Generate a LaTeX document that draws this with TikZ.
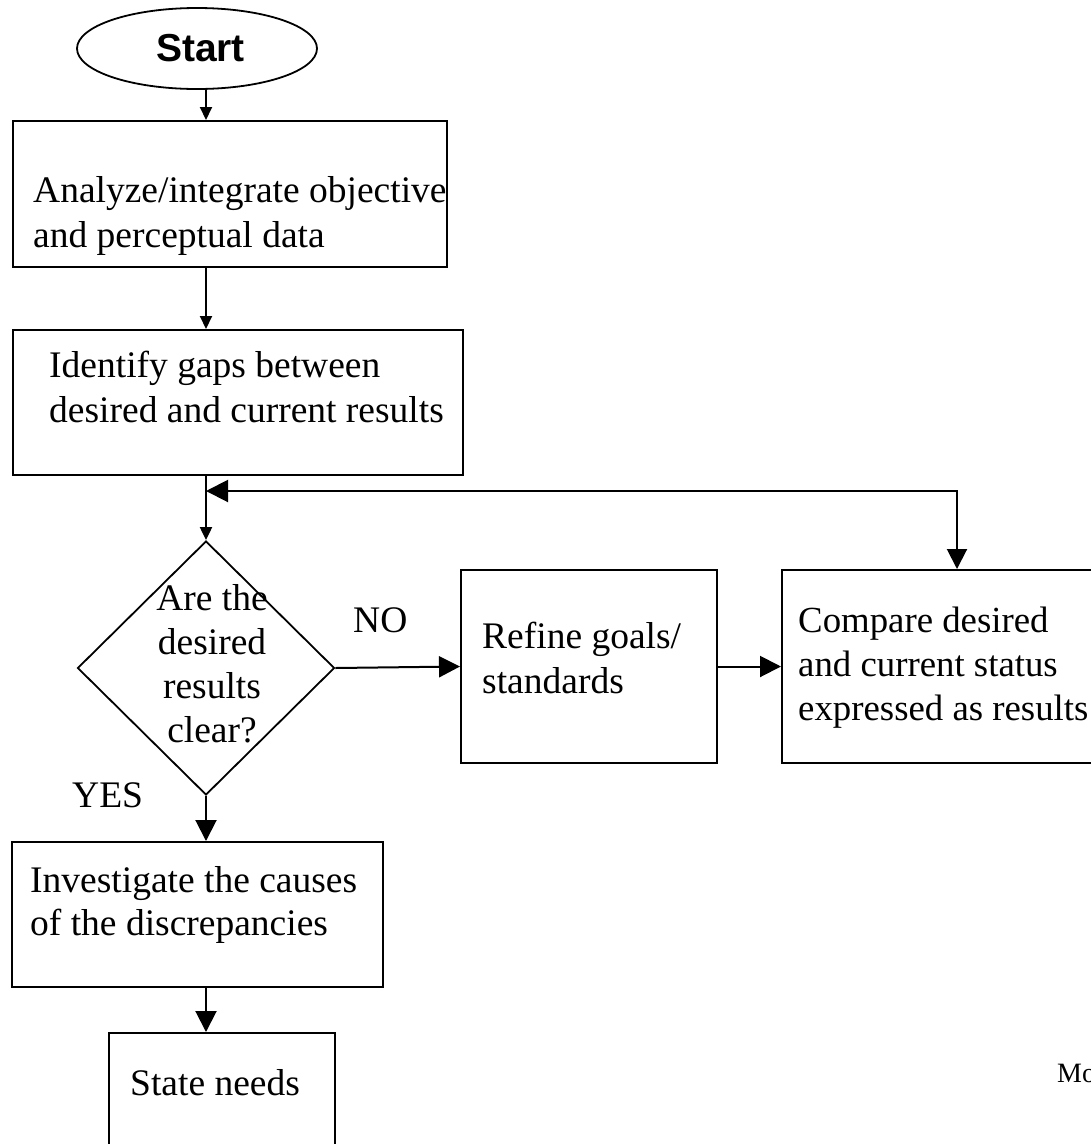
\documentclass[tikz,border=0pt]{standalone}
\usepackage{fontspec}
\setmainfont{Liberation Serif}
\newfontfamily\sansfam{Liberation Sans}
\usetikzlibrary{shapes.geometric,arrows.meta}
\begin{document}
\begin{tikzpicture}[x=1pt,y=-1pt,
  box/.style={draw, line width=2pt, rectangle, inner sep=0pt},
  txt/.style={inner sep=0pt, anchor=base west, font=\fontsize{37.5}{#1}\selectfont},
  txt/.default=45,
  ctxt/.style={inner sep=0pt, anchor=base, font=\fontsize{37.5}{#1}\selectfont},
  ctxt/.default=44.3,
  sarr/.style={line width=2pt, -{Triangle[length=13pt,width=12pt]}},
  barr/.style={line width=2pt, -{Triangle[length=21pt,width=21pt]}},
  bbarr/.style={line width=2pt, {Triangle[length=22pt,width=22pt]}-{Triangle[length=20pt,width=20pt]}},
]
\path[use as bounding box, fill=white] (0,0) rectangle (1091,1144);
\clip (0,0) rectangle (1091,1144);

% shapes
\node[draw, line width=1.8pt, ellipse, inner sep=0pt, minimum width=240pt, minimum height=81pt,
      font=\sansfam\bfseries\fontsize{39}{45}\selectfont] (start) at (197,48.5) {\hspace*{7pt}Start};
\node[box, minimum width=434pt, minimum height=146pt] (b1) at (230,194) {};
\node[box, minimum width=450pt, minimum height=145pt] (b2) at (238,402.5) {};
\node[draw, line width=1.8pt, diamond, inner sep=0pt, minimum width=257pt, minimum height=254pt] (dia) at (206,668) {};
\node[box, minimum width=256pt, minimum height=193pt] (ref) at (589,666.5) {};
\node[box, minimum width=328pt, minimum height=193pt] (cmp) at (946,666.5) {};
\node[box, minimum width=371pt, minimum height=145pt] (b3) at (197.5,914.5) {};
\node[box, minimum width=226pt, minimum height=127pt] (b4) at (222,1096.5) {};

% texts
\node[txt] (t1) at (33,202) {\begin{tabular}[t]{@{}l@{}}Analyze/integrate objective\\and perceptual data\end{tabular}};
\node[txt] (t2) at (49,377) {\begin{tabular}[t]{@{}l@{}}Identify gaps between\\desired and current results\end{tabular}};
\node[ctxt] (tdia) at (212,610) {\begin{tabular}[t]{@{}c@{}}Are the\\desired\\results\\clear?\end{tabular}};
\node[txt] (tno) at (353,632) {NO};
\node[txt] (tyes) at (72,807) {YES};
\node[txt] (tref) at (482,648) {\begin{tabular}[t]{@{}l@{}}Refine goals/\\standards\end{tabular}};
\node[txt=44, font=\fontsize{36.8}{44}\selectfont] (tcmp) at (798,632) {\begin{tabular}[t]{@{}l@{}}Compare desired\\and current status\\expressed as results\end{tabular}};
\node[txt=43] (t3) at (30,892) {\begin{tabular}[t]{@{}l@{}}Investigate the causes\\of the discrepancies\end{tabular}};
\node[txt] (t4) at (130,1095) {State needs};
\node[inner sep=0pt, anchor=base west, font=\fontsize{28}{34}\selectfont] (tmo) at (1057,1082) {Mo};

% connectors
\coordinate (fb) at (206,491);
\coordinate (fbr) at (957,491);
\draw[sarr] (start.south -| dia.north) -- (b1.north -| dia.north);
\draw[sarr] (b1.south -| dia.north) -- (b2.north -| dia.north);
\draw[sarr] (b2.south -| dia.north) -- (dia.north);
\draw[bbarr] (fb) -- (fbr) -- (fbr |- cmp.north);
\draw[barr] (dia.east) -- (ref.west);
\draw[barr] (ref.east) -- (cmp.west);
\draw[barr] (dia.south) -- (b3.north -| dia.south);
\draw[barr] (b3.south -| dia.south) -- (b4.north -| dia.south);
\end{tikzpicture}
\end{document}
